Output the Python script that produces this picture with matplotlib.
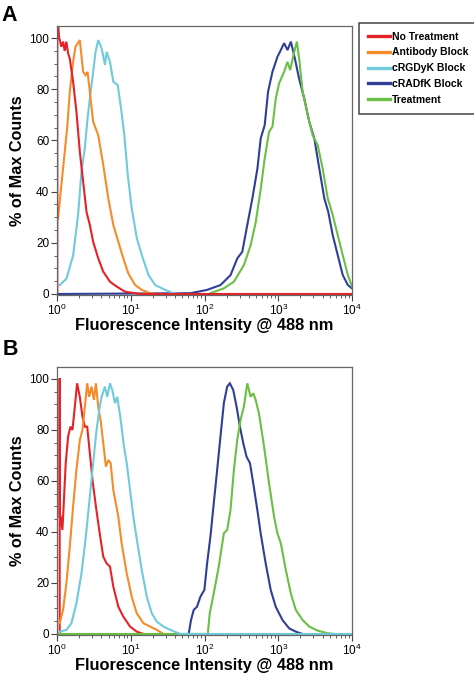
import matplotlib
matplotlib.use('Agg')
import matplotlib.pyplot as plt
import numpy as np

plt.rcParams['font.family'] = ['Liberation Sans', 'DejaVu Sans']
plt.rcParams['mathtext.fontset'] = 'custom'
plt.rcParams['mathtext.rm'] = 'Liberation Sans'
plt.rcParams['mathtext.it'] = 'Liberation Sans'

labels = ['No Treatment', 'Antibody Block', 'cRGDyK Block', 'cRADfK Block', 'Treatment']
colors = ['#e42228', '#f68b2a', '#6fcbdc', '#2f3f98', '#6bbf45']

# x values are log10(intensity), y values are % of max counts
# ---- panel A ----
a_red_x = [0.004, 0.004, 0.027, 0.059, 0.082, 0.104, 0.127, 0.15, 0.173, 0.218, 0.264, 0.309, 0.354,
           0.40, 0.445, 0.49, 0.559, 0.627, 0.718, 0.809, 0.922, 1.126, 4.0]
a_red_y = [0, 110, 100.5, 96.6, 98.6, 95, 98.6, 94, 92, 83, 71, 55.6, 44,
           32, 27, 20.4, 13.9, 8.7, 4.8, 2.9, 0.9, 0, 0]
a_orange_x = [0.014, 0.05, 0.096, 0.141, 0.173, 0.218, 0.25, 0.309, 0.354, 0.387, 0.414, 0.445, 0.49,
              0.559, 0.627, 0.695, 0.763, 0.831, 0.899, 0.967, 1.059, 1.15, 1.263, 1.33]
a_orange_y = [29.6, 40, 53, 66, 79, 90.7, 96.6, 99.2, 86.8, 85.5, 86.8, 79, 67.3,
              62, 50.4, 37.4, 27, 20.4, 13.9, 8, 3.5, 1.6, 0.3, 0]
a_cyan_x = [0.037, 0.128, 0.218, 0.286, 0.332, 0.377, 0.414, 0.445, 0.49, 0.523, 0.559, 0.605, 0.65,
            0.673, 0.718, 0.763, 0.823, 0.868, 0.913, 0.959, 1.013, 1.082, 1.15, 1.24, 1.331, 1.467,
            1.58, 1.67]
a_cyan_y = [3.5, 6, 15, 31, 48, 57, 68.6, 76.4, 86.8, 94.6, 99.2, 96, 89.5,
            94.6, 90.7, 83, 81.6, 72.5, 62, 46.5, 33.5, 21.8, 15.2, 7.4, 3.5, 1.6,
            0.3, 0]
a_blue_x = [0.0, 1.808, 2.035, 2.217, 2.353, 2.444, 2.512, 2.58, 2.649, 2.717, 2.762, 2.816, 2.861,
            2.921, 2.989, 3.034, 3.079, 3.125, 3.171, 3.225, 3.283, 3.352, 3.42, 3.488, 3.556, 3.624,
            3.678, 3.738, 3.806, 3.874, 3.943, 4.0]
a_blue_y = [0, 0.3, 1.6, 3.5, 7.4, 13.9, 16.5, 27, 37.4, 49, 60.8, 66, 79,
            86.8, 92.7, 95.3, 98, 95.3, 98.6, 92, 84, 76.4, 67.3, 60.8, 49, 37.4,
            32, 23, 15.2, 7.4, 3.5, 2.2]
a_green_x = [2.08, 2.262, 2.398, 2.534, 2.625, 2.694, 2.762, 2.816, 2.875, 2.921, 2.966, 3.011, 3.079,
             3.125, 3.161, 3.216, 3.252, 3.283, 3.33, 3.398, 3.466, 3.534, 3.602, 3.67, 3.738, 3.806,
             3.874, 3.943, 4.0]
a_green_y = [0.3, 2.2, 4.8, 11.3, 19, 28, 41, 53, 63.4, 65.4, 76.4, 82.3, 86.8,
             90.7, 87.5, 94.6, 98.6, 92, 79, 70, 62, 58.2, 49, 37.4, 30.9, 23,
             15.2, 7.4, 2.9]

# ---- panel B ----
b_red_x = [0.036, 0.036, 0.036, 0.05, 0.073, 0.091, 0.118, 0.15, 0.182, 0.209, 0.241, 0.272, 0.309,
           0.345, 0.377, 0.409, 0.436, 0.481, 0.527, 0.572, 0.627, 0.672, 0.718, 0.763, 0.831, 0.899,
           0.99, 1.081, 1.172]
b_red_y = [0, 100.3, 46, 46, 40.8, 51, 67, 77.4, 81.3, 80, 89, 98.3, 93,
           85.2, 81.3, 81.3, 73.5, 60.4, 50, 40.8, 30.3, 27.7, 26.4, 18.6, 10.7, 6.8,
           2.9, 0.9, 0]
b_orange_x = [0.036, 0.082, 0.127, 0.173, 0.218, 0.263, 0.309, 0.345, 0.377, 0.409, 0.436, 0.468, 0.5,
              0.527, 0.559, 0.59, 0.627, 0.663, 0.695, 0.727, 0.763, 0.831, 0.876, 0.945, 1.013, 1.081,
              1.172, 1.262, 1.353, 1.444]
b_orange_y = [4.2, 9.4, 19.9, 34.2, 50, 64.3, 76, 80, 89, 98.3, 93, 97, 91.8,
              98.3, 89, 84, 74.8, 65.6, 68.2, 67, 56.5, 46, 35.6, 23.8, 14.6, 8.1,
              4.2, 2.9, 1.6, 0]
b_cyan_x = [0.036, 0.127, 0.195, 0.263, 0.332, 0.391, 0.445, 0.49, 0.536, 0.572, 0.604, 0.649, 0.681,
            0.718, 0.749, 0.786, 0.817, 0.863, 0.908, 0.945, 0.99, 1.035, 1.09, 1.149, 1.217, 1.285,
            1.353, 1.444, 1.535, 1.671, 4.0]
b_cyan_y = [0.9, 1.6, 4.2, 12, 23.8, 38.2, 53.9, 67, 80, 87.8, 93, 97, 93,
            98.3, 95.7, 90.5, 93, 84, 73.5, 67, 56.5, 46, 35.6, 25.1, 14.6, 8.1,
            4.8, 2.9, 1.6, 0, 0]
b_blue_x = [1.785, 1.817, 1.853, 1.898, 1.944, 1.998, 2.035, 2.08, 2.125, 2.171, 2.216, 2.262, 2.307,
            2.343, 2.389, 2.434, 2.48, 2.525, 2.57, 2.616, 2.661, 2.716, 2.761, 2.829, 2.897, 2.965,
            3.056, 3.147, 3.238, 3.329]
b_blue_y = [0, 5.5, 9.4, 10.7, 14.6, 17.3, 27.7, 38.2, 51.2, 64.3, 77.4, 90.5, 97,
            98.3, 95.7, 89.2, 81.3, 74.8, 69.5, 67, 59, 48.6, 39.5, 27.7, 17.3, 10.7,
            5.5, 2.2, 0.9, 0]
b_green_x = [0.0, 2.044, 2.071, 2.125, 2.193, 2.262, 2.307, 2.352, 2.398, 2.443, 2.489, 2.534, 2.58,
             2.625, 2.661, 2.693, 2.738, 2.807, 2.875, 2.943, 2.988, 3.034, 3.102, 3.17, 3.238, 3.329,
             3.42, 3.533, 3.669, 3.76]
b_green_y = [0, 0, 8.1, 15.9, 26.4, 39.5, 40.8, 48.6, 64.3, 76, 84, 89.2, 98.3,
             93, 94.4, 91.8, 86.5, 73.5, 59, 46, 39.5, 35.6, 25.1, 15.9, 9.4, 5.5,
             2.9, 1.3, 0.3, 0]

panel_a = [(a_blue_x, a_blue_y, 3), (a_green_x, a_green_y, 4), (a_cyan_x, a_cyan_y, 2),
           (a_orange_x, a_orange_y, 1), (a_red_x, a_red_y, 0)]
panel_b = [(b_red_x, b_red_y, 0), (b_orange_x, b_orange_y, 1), (b_blue_x, b_blue_y, 3),
           (b_green_x, b_green_y, 4), (b_cyan_x, b_cyan_y, 2)]

fig = plt.figure(figsize=(4.74, 6.74), dpi=100)
ax1 = fig.add_axes([0.1203, 0.5623, 0.6224, 0.3991])
ax2 = fig.add_axes([0.1203, 0.0579, 0.6224, 0.3976])

for ax, curves in [(ax1, panel_a), (ax2, panel_b)]:
    for xs, ys, k in curves:
        ax.plot(10 ** np.array(xs), ys, color=colors[k], lw=1.5, solid_joinstyle='miter')
    ax.set_xscale('log')
    ax.set_xlim(1, 1e4)
    ax.set_ylim(-0.4, 104.7)
    ax.set_xticks([1, 10, 100, 1000, 10000],
                  labels=[r'$10^{0}$', r'$10^{1}$', r'$10^{2}$', r'$10^{3}$', r'$10^{4}$'])
    ax.set_yticks([0, 20, 40, 60, 80, 100])
    ax.set_yticks(np.arange(0, 101, 5), minor=True)
    ax.tick_params(axis='both', which='major', labelsize=8.5, length=4, width=0.8,
                   color='#444444', pad=1.5)
    ax.tick_params(axis='both', which='minor', length=2, width=0.6, color='#444444')
    for s in ax.spines.values():
        s.set_color('#666666')
        s.set_linewidth(0.9)
    ax.set_xlabel('Fluorescence Intensity @ 488 nm', fontsize=11.8, fontweight='bold', labelpad=0)
    ax.set_ylabel('% of Max Counts', fontsize=11.7, fontweight='bold')
    ax.yaxis.set_label_coords(-0.108, 0.5)

fig.text(0.004, 0.993, 'A', fontsize=15.5, fontweight='bold', va='top', ha='left')
fig.text(0.006, 0.497, 'B', fontsize=15.5, fontweight='bold', va='top', ha='left')

handles = [plt.Line2D([], [], color=c, lw=2.4) for c in colors]
leg = fig.legend(handles, labels, loc='upper left', bbox_to_anchor=(0.757, 0.966),
                 bbox_transform=fig.transFigure, borderaxespad=0,
                 prop={'weight': 'bold', 'size': 7.5}, fancybox=False, framealpha=1,
                 edgecolor='#444444', handlelength=2.1, handletextpad=0.25,
                 labelspacing=0.55, borderpad=0.85)
leg.get_frame().set_linewidth(1.1)

fig.savefig('out.png', dpi=100)
